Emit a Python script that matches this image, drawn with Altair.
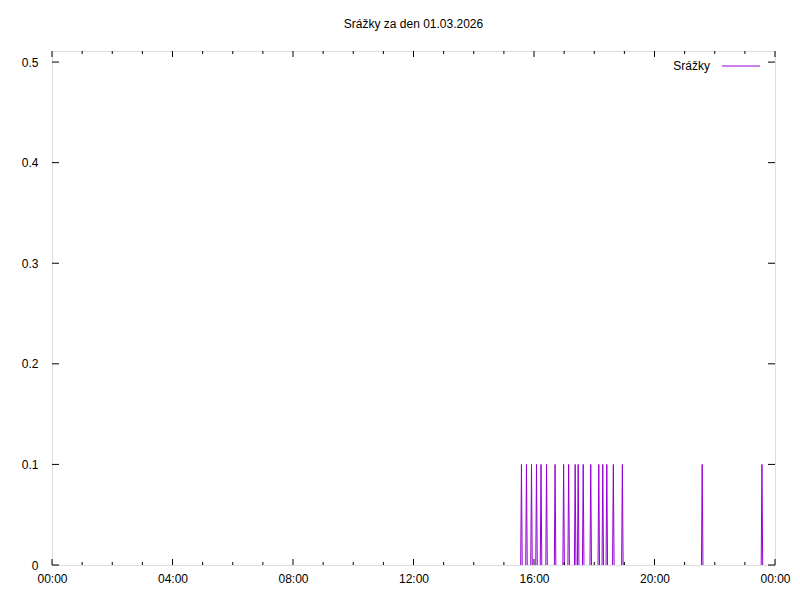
import altair as alt
import pandas as pd

title_text = "Srážky za den 01.03.2026"
series_name = "Srážky"
spike_times = ["15:35", "15:45", "15:55", "16:05", "16:14", "16:25", "16:42", "16:59",
               "17:09", "17:22", "17:28", "17:38", "17:53", "18:09", "18:17", "18:25",
               "18:38", "18:56", "21:35", "23:34"]
spike_values = [0.1] * len(spike_times)
x_major = [0, 4, 8, 12, 16, 20, 24]
x_minor = list(range(0, 25))
y_ticks = [0, 0.1, 0.2, 0.3, 0.4, 0.5]

W, H = 723, 514
COLOR = "#9400D3"
FONT = "Liberation Sans"

def to_h(s):
    h, m = s.split(":")
    return int(h) + int(m) / 60.0

rows = []
half = 1.5 / 60.0
for i, (t, v) in enumerate(zip(spike_times, spike_values)):
    hh = to_h(t)
    rows += [{"h": hh - half, "v": 0.0, "k": i}, {"h": hh, "v": v, "k": i},
             {"h": hh + half, "v": 0.0, "k": i}]
line_df = pd.DataFrame(rows)

xs = alt.Scale(domain=[0, 24], nice=False, zero=False)
ys = alt.Scale(domain=[0, 0.511], nice=False)

label_expr = "(datum.value % 24 < 10 ? '0' : '') + (datum.value % 24) + ':00'"

line = alt.Chart(line_df).mark_line(color=COLOR, strokeWidth=1).encode(
    x=alt.X("h:Q", scale=xs, axis=alt.Axis(values=x_major, labelExpr=label_expr, title=None,
                                           ticks=False, domain=False, grid=False,
                                           labelFont=FONT, labelFontSize=12, labelColor="black",
                                           labelPadding=8, labelFlush=False)),
    y=alt.Y("v:Q", scale=ys, axis=alt.Axis(values=y_ticks, title=None, ticks=False, domain=False,
                                           grid=False, labelFont=FONT, labelFontSize=12,
                                           labelColor="black", labelPadding=14,
                                           labelExpr="datum.value == 0 ? '0' : format(datum.value, '.1f')")),
    detail="k:N",
)

major_df = pd.DataFrame({"h": x_major})
minor_df = pd.DataFrame({"h": [m for m in x_minor if m not in x_major]})
yt_df = pd.DataFrame({"v": y_ticks})

def xticks(df, ln):
    b = alt.Chart(df).mark_rule(color="black", strokeWidth=1).encode(
        x=alt.X("h:Q", scale=xs), y=alt.value(H), y2=alt.value(H - ln))
    t = alt.Chart(df).mark_rule(color="black", strokeWidth=1).encode(
        x=alt.X("h:Q", scale=xs), y=alt.value(0), y2=alt.value(ln))
    return b + t

yl = alt.Chart(yt_df).mark_rule(color="black", strokeWidth=1).encode(
    y=alt.Y("v:Q", scale=ys), x=alt.value(0), x2=alt.value(7))
yr = alt.Chart(yt_df).mark_rule(color="black", strokeWidth=1).encode(
    y=alt.Y("v:Q", scale=ys), x=alt.value(W), x2=alt.value(W - 7))

leg_df = pd.DataFrame({"name": [series_name]})
leg_text = alt.Chart(leg_df).mark_text(align="right", baseline="middle", font=FONT,
                                       fontSize=12, color="black").encode(
    text="name:N", x=alt.value(658), y=alt.value(15))
leg_line = alt.Chart(leg_df).mark_rule(color=COLOR, strokeWidth=1).encode(
    x=alt.value(670), x2=alt.value(708), y=alt.value(15))

chart = alt.layer(
    line, xticks(major_df, 6), xticks(minor_df, 3), yl, yr, leg_text, leg_line
).properties(
    width=W, height=H,
    title=alt.TitleParams(title_text, font=FONT, fontSize=12, fontWeight="normal",
                          color="black", anchor="middle", offset=20),
    autosize=alt.AutoSizeParams(type="none"),
    padding={"left": 44, "top": 43, "right": 16, "bottom": 22},
).configure_view(stroke="black", strokeWidth=1).configure(background="white")

chart.save("out.html", embed_options={"renderer": "svg", "actions": False})
